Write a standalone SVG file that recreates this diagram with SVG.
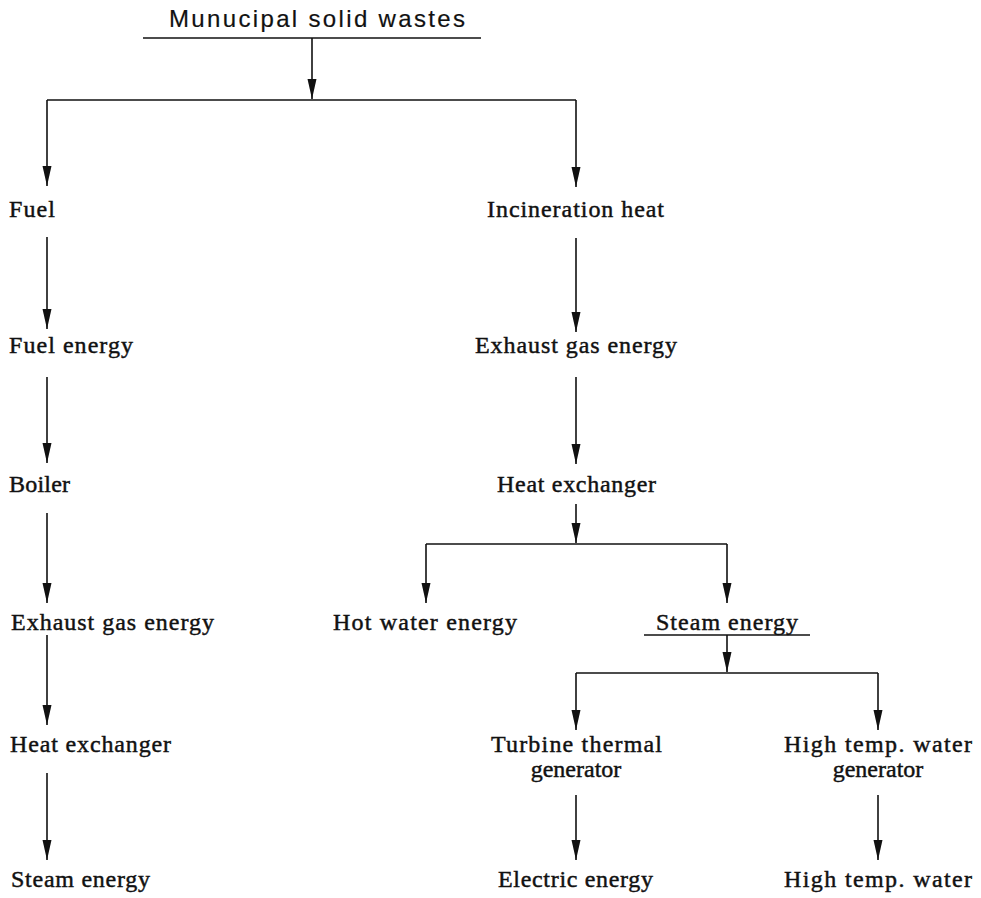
<svg xmlns="http://www.w3.org/2000/svg" width="981" height="898" viewBox="0 0 981 898">
<style>
.t{font-family:"Liberation Serif","Times New Roman",serif;font-size:24px;fill:#111;stroke:#111;stroke-width:0.45}
.s{font-family:"Liberation Sans",Arial,sans-serif;font-size:24px;fill:#111;stroke:#111;stroke-width:0.2}
.c{stroke:#111;stroke-width:1.6;fill:none}
.a{stroke:#111;stroke-width:1.6;fill:none;marker-end:url(#ah)}
</style>
<defs>
<marker id="ah" markerUnits="userSpaceOnUse" viewBox="0 0 20 10" markerWidth="20" markerHeight="10" refX="20" refY="5" orient="auto">
<path d="M0,0.5 L20,5 L0,9.5 z" fill="#111"/>
</marker>
</defs>
<g id="msw"><text class="s" x="169" y="27" textLength="296" lengthAdjust="spacing">Munucipal solid wastes</text><path class="c" d="M143,38 H481"/></g>
<g id="fuel"><text class="t" x="9" y="217" textLength="46" lengthAdjust="spacing">Fuel</text></g>
<g id="incin"><text class="t" x="487" y="217" textLength="177" lengthAdjust="spacing">Incineration heat</text></g>
<g id="fuelenergy"><text class="t" x="9" y="353" textLength="124" lengthAdjust="spacing">Fuel energy</text></g>
<g id="exhaust-r"><text class="t" x="475" y="353" textLength="202" lengthAdjust="spacing">Exhaust gas energy</text></g>
<g id="boiler"><text class="t" x="9" y="492" textLength="61" lengthAdjust="spacing">Boiler</text></g>
<g id="heatex-r"><text class="t" x="497" y="492" textLength="159" lengthAdjust="spacing">Heat exchanger</text></g>
<g id="exhaust-l"><text class="t" x="11" y="630" textLength="203" lengthAdjust="spacing">Exhaust gas energy</text></g>
<g id="hotwater"><text class="t" x="333" y="630" textLength="184" lengthAdjust="spacing">Hot water energy</text></g>
<g id="steam-r"><text class="t" x="656" y="630" textLength="142" lengthAdjust="spacing">Steam energy</text><path class="c" d="M644,635 H810"/></g>
<g id="heatex-l"><text class="t" x="10" y="752" textLength="161" lengthAdjust="spacing">Heat exchanger</text></g>
<g id="turbine"><text class="t" x="491" y="752" textLength="171" lengthAdjust="spacing">Turbine thermal</text><text class="t" x="576" y="777" text-anchor="middle">generator</text></g>
<g id="hightempgen"><text class="t" x="784" y="752" textLength="188" lengthAdjust="spacing">High temp. water</text><text class="t" x="878" y="777" text-anchor="middle">generator</text></g>
<g id="steam-l"><text class="t" x="11" y="887" textLength="139" lengthAdjust="spacing">Steam energy</text></g>
<g id="electric"><text class="t" x="498" y="887" textLength="155" lengthAdjust="spacing">Electric energy</text></g>
<g id="hightemp"><text class="t" x="784" y="887" textLength="188" lengthAdjust="spacing">High temp. water</text></g>
<g id="connectors">
<path class="a" d="M312,38 V99"/>
<path class="c" d="M47,100 H576"/>
<path class="a" d="M47,100 V186"/>
<path class="a" d="M576,100 V187"/>
<path class="a" d="M47,237 V329"/>
<path class="a" d="M47,377 V463"/>
<path class="a" d="M47,513 V603"/>
<path class="a" d="M47,635 V725"/>
<path class="a" d="M47,773 V860"/>
<path class="a" d="M576,238 V332"/>
<path class="a" d="M576,377 V464"/>
<path class="a" d="M576,504 V543"/>
<path class="c" d="M426,544 H727"/>
<path class="a" d="M426,544 V603"/>
<path class="a" d="M727,544 V603"/>
<path class="a" d="M727,635 V672"/>
<path class="c" d="M576,673 H878"/>
<path class="a" d="M576,673 V730"/>
<path class="a" d="M878,673 V730"/>
<path class="a" d="M576,795 V860"/>
<path class="a" d="M878,795 V860"/>
</g>
</svg>
